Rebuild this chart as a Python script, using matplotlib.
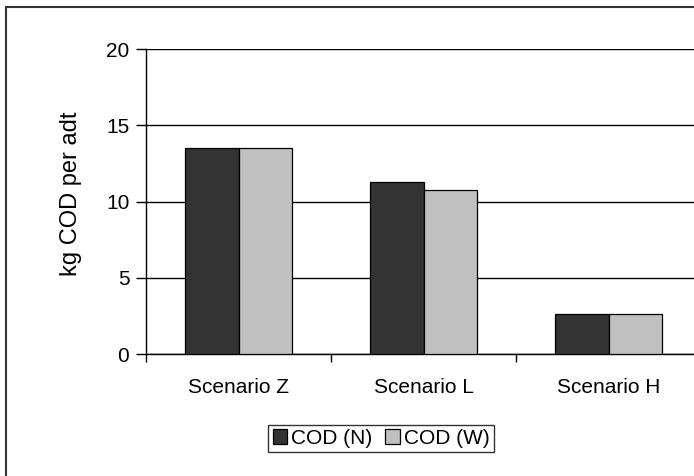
import numpy as np
import matplotlib
matplotlib.use('Agg')
import matplotlib.pyplot as plt
from matplotlib.patches import Rectangle

# Du lieu COD theo kich ban
categories = ['Scenario Z', 'Scenario L', 'Scenario H']
cod_n = [13.5, 11.3, 2.65]
cod_w = [13.5, 10.77, 2.65]
series_names = ['COD (N)', 'COD (W)']
yticks = [0, 5, 10, 15, 20]

plt.rcParams['font.family'] = ['Liberation Sans', 'DejaVu Sans']

W, H = 694, 476
fig = plt.figure(figsize=(W / 100, H / 100), dpi=100)
fig.patch.set_facecolor('white')

# Khung vien ngoai (bi cat o canh phai va duoi)
fig.add_artist(Rectangle((6 / W, -0.1), 1.2, 1 - 7 / H + 0.1,
                         transform=fig.transFigure, fill=False,
                         edgecolor='#333333', linewidth=1.5, clip_on=False))

ax = fig.add_axes([146 / W, 1 - 354 / H, (701 - 146) / W, (354 - 49.3) / H])

x = np.arange(len(categories))
bw = 0.289
ax.bar(x - bw / 2, cod_n, bw, color='#333333', edgecolor='black', linewidth=0.9,
       label=series_names[0], zorder=3)
ax.bar(x + bw / 2, cod_w, bw, color='#c0c0c0', edgecolor='black', linewidth=0.9,
       label=series_names[1], zorder=3)

ax.set_xlim(-0.5, 2.5)
ax.set_ylim(0, 20)
ax.set_yticks(yticks)
ax.set_yticklabels([str(v) for v in yticks], fontsize=15)
ax.yaxis.grid(True, color='black', linewidth=1)
ax.set_axisbelow(True)

# Vach chia giua cac nhom tren truc x
ax.set_xticks([-0.5, 0.5, 1.5, 2.5])
ax.set_xticklabels([])
ax.set_xticks(x, minor=True)
ax.set_xticklabels(categories, minor=True, fontsize=15)
ax.tick_params(axis='x', which='major', direction='out', length=6, width=1)
ax.tick_params(axis='x', which='minor', length=0, pad=17)
ax.tick_params(axis='y', direction='out', length=7, width=1, pad=5)

for s in ['top', 'right']:
    ax.spines[s].set_visible(False)
ax.spines['left'].set_linewidth(1)
ax.spines['bottom'].set_linewidth(1)

ax.set_ylabel('kg COD per adt', fontsize=17)
ax.yaxis.set_label_coords((82 - 146) / (701 - 146), 1 - (194 - 49.3) / (354 - 49.3))

leg = fig.legend(loc='center', bbox_to_anchor=(381 / W, 1 - 438.5 / H), ncol=2,
                 fontsize=15, frameon=True, fancybox=False, edgecolor='black',
                 handlelength=0.7, handleheight=0.7, handletextpad=0.2,
                 columnspacing=0.6, borderpad=0.2, borderaxespad=0)
leg.get_frame().set_linewidth(1)

fig.savefig('out.png', dpi=100)
